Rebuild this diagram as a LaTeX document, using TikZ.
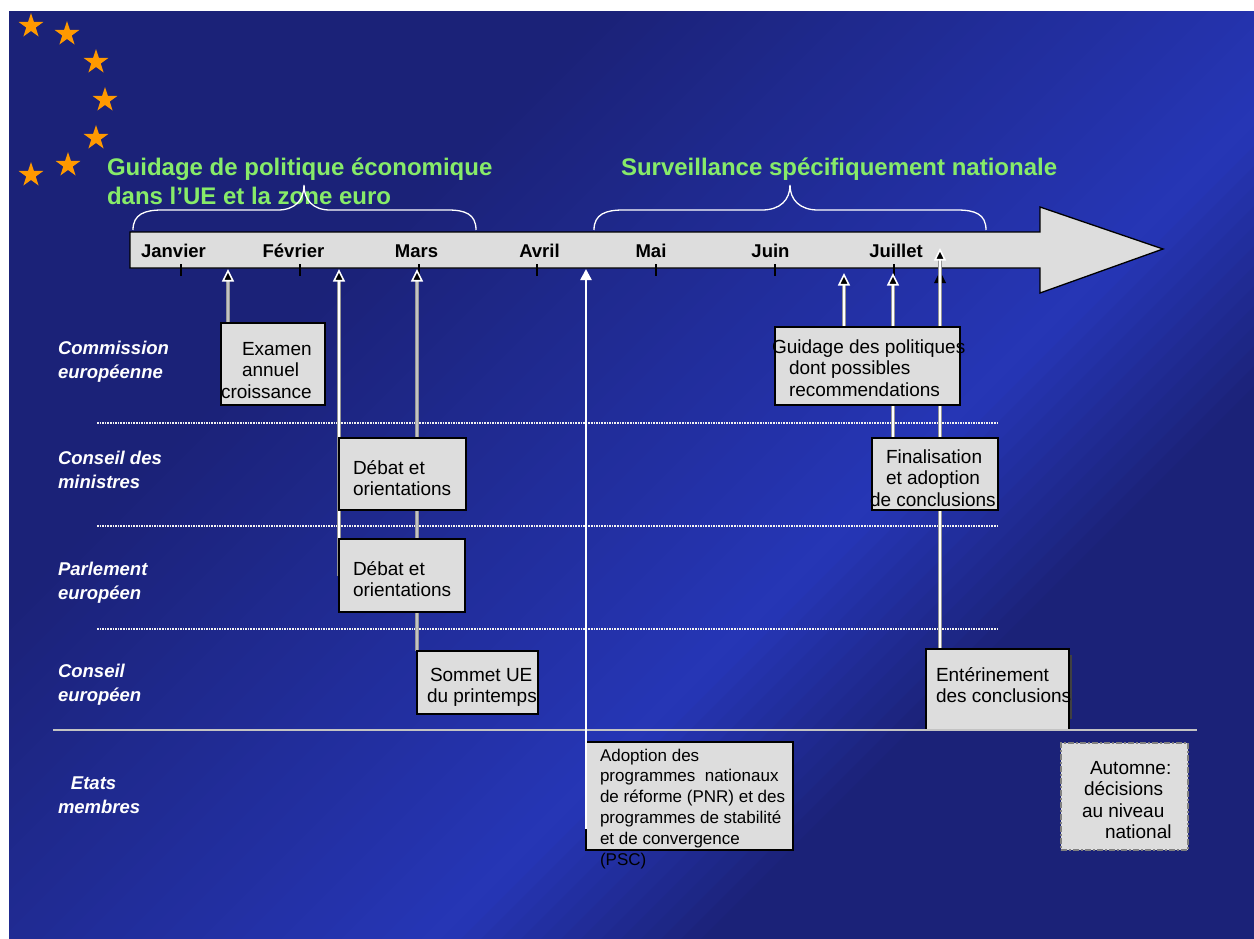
\documentclass[tikz,border=0pt]{standalone}
\usepackage{fontspec}
\setmainfont{Liberation Sans}
\usetikzlibrary{shapes.geometric, arrows.meta}
\definecolor{bgdark}{RGB}{27,34,120}
\definecolor{bgbright}{RGB}{38,54,182}
\definecolor{boxfill}{RGB}{221,221,221}
\definecolor{titlegreen}{RGB}{135,235,105}
\definecolor{starorange}{RGB}{255,153,0}
\definecolor{linegray}{RGB}{150,150,150}
\definecolor{linelight}{RGB}{195,195,195}
\definecolor{sepgray}{RGB}{195,195,195}
\pgfdeclarelayer{bglayer}
\pgfdeclarelayer{lineslayer}
\pgfdeclarelayer{frontlayer}
\pgfsetlayers{bglayer,lineslayer,main,frontlayer}
\newcommand\mylines[1]{\begin{tabular}[t]{@{}l@{}}#1\end{tabular}}
\begin{document}
\begin{tikzpicture}[x=1pt,y=-1pt,
  every node/.style={inner sep=0pt, outer sep=0pt},
  starnode/.style={star, star points=5, star point ratio=2.618, fill=starorange, minimum size=26pt},
  boxnode/.style={draw=black, line width=1.3pt, fill=boxfill, anchor=north west},
  boxtext/.style={anchor=base west, text=black, font=\fontsize{19}{21.5}\selectfont},
  sidelabel/.style={anchor=base west, text=white, font=\bfseries\itshape\fontsize{18.5}{24}\selectfont},
  month/.style={anchor=base, text=black, font=\bfseries\fontsize{18.5}{22}\selectfont},
  titletext/.style={anchor=base west, text=titlegreen, font=\bfseries\fontsize{24}{28.5}\selectfont},
  brace/.style={white, line width=1.3pt},
  dotsep/.style={white!90!gray, line width=1.6pt, dash pattern=on 1.6pt off 1pt},
  opentip/.tip={Triangle[length=12.5pt,width=12pt,color=white,fill=black,line width=1.6pt]},
  grayback/.style={linegray, line width=3.6pt, shorten >=9pt},
  grayfront/.style={linelight, line width=1.2pt, -opentip},
  dblback/.style={linegray, line width=3.6pt, shorten >=9pt},
  dblfront/.style={white, line width=1.4pt, -opentip},
  tick/.style={black, line width=1.2pt}
]
\useasboundingbox (0,0) rectangle (1254,939);
\begin{pgfonlayer}{bglayer}
\fill[white] (0,0) rectangle (1254,939);
\begin{scope}
\clip (9,12) rectangle (1254,939);
\foreach \s in {0,20,...,2200}{
  \pgfmathtruncatemacro{\t}{\s<600 ? 0 : (\s<1370 ? (\s-600)/7.7 : (\s<1640 ? 100-(\s-1370)/2.7 : 0))}
  \fill[bgbright!\t!bgdark] (\s,0) -- (\s+21,0) -- (\s-919,940) -- (\s-940,940) -- cycle;
}
\end{scope}
% stars
\node[starnode] (st1) at (31,26) {};
\node[starnode] (st2) at (67,34) {};
\node[starnode] (st3) at (96,62) {};
\node[starnode] (st4) at (105,100) {};
\node[starnode] (st5) at (96,138) {};
\node[starnode] (st6) at (68,165) {};
\node[starnode] (st7) at (31,175) {};
% titles
\node[titletext] (title1) at (107,176) {\mylines{Guidage de politique économique\\dans l’UE et la zone euro}};
\node[titletext] (title2) at (621,176) {Surveillance spécifiquement nationale};
% braces
\draw[brace] (133,230) .. controls (133,214) and (145,210) .. (162,210) -- (278,210) .. controls (295,210) and (304,200) .. (304,185) .. controls (304,200) and (313,210) .. (330,210) -- (448,210) .. controls (465,210) and (476,214) .. (476,230);
\draw[brace] (594,230) .. controls (594,214) and (606,210) .. (623,210) -- (762,210) .. controls (780,210) and (790,200) .. (790,185) .. controls (790,200) and (800,210) .. (818,210) -- (957,210) .. controls (975,210) and (986,214) .. (986,230);
% timeline
\draw[line width=1.3pt, fill=boxfill, line join=miter] (130,232) -- (1040,232) -- (1040,207) -- (1163,249) -- (1040,293) -- (1040,268) -- (130,268) -- cycle;
\foreach \x in {181,300,419,537,656,775,894}{\draw[tick] (\x,264) -- (\x,276);}
\node[month] (m1) at (173.5,257) {Janvier};
\node[month] (m2) at (293.5,257) {Février};
\node[month] (m3) at (416.5,257) {Mars};
\node[month] (m4) at (539.5,257) {Avril};
\node[month] (m5) at (651,257) {Mai};
\node[month] (m6) at (770.5,257) {Juin};
\node[month] (m7) at (896,257) {Juillet};
% dotted separators
\draw[dotsep] (97,423) -- (997,423);
\draw[dotsep] (97,526) -- (997,526);
\draw[dotsep] (97,629) -- (997,629);
\end{pgfonlayer}

% boxes
\node[boxnode, minimum width=104pt, minimum height=82pt] (examen) at (221,323) {};
\node[boxnode, minimum width=127pt, minimum height=72pt] (cons) at (339,438) {};
\node[boxnode, minimum width=126pt, minimum height=73pt] (parl) at (339,539) {};
\node[boxnode, minimum width=121pt, minimum height=63pt] (somm) at (417,651) {};
\node[boxnode, minimum width=185pt, minimum height=78pt] (guid) at (775,327) {};
\node[boxnode, minimum width=126pt, minimum height=72pt] (fin) at (872,438) {};
\fill[black!75] (1068,655) rectangle (1072,719);
\node[boxnode, minimum width=143pt, minimum height=81pt] (ent) at (926,649) {};
\node[boxnode, minimum width=207pt, minimum height=108pt] (psc) at (586,742) {};
\node[boxnode, draw=gray, line width=1.5pt, dash pattern=on 6pt off 2pt on 2pt off 2pt, minimum width=127pt, minimum height=107pt] (aut) at (1061,743) {};

% box texts
\node[boxtext] (examen-t) at (221,355) {\mylines{\hspace*{21pt}Examen\\\hspace*{21pt}annuel\\croissance}};
\node[boxtext] (cons-t) at (353,474) {\mylines{Débat et\\orientations}};
\node[boxtext] (parl-t) at (353,575) {\mylines{Débat et\\orientations}};
\node[boxtext] (somm-t) at (427,681) {\mylines{\hspace*{3pt}Sommet UE\\du printemps}};
\node[boxtext] (guid-t) at (772,353) {\mylines{Guidage des politiques\\\hspace*{17pt}dont possibles\\\hspace*{17pt}recommendations}};
\node[boxtext] (fin-t) at (870,463) {\mylines{\hspace*{16pt}Finalisation\\\hspace*{16pt}et adoption\\de conclusions}};
\node[boxtext] (ent-t) at (936,681) {\mylines{Entérinement\\des conclusions}};
\node[boxtext, font=\fontsize{17}{20.8}\selectfont] (psc-t) at (600,761) {\mylines{Adoption des\\programmes\ \ nationaux\\de réforme (PNR) et des\\programmes de stabilité\\et de convergence\\(PSC)}};
\node[boxtext] (aut-t) at (1082,774) {\mylines{\hspace*{8pt}Automne:\\\hspace*{2pt}décisions\\au niveau\\\hspace*{23pt}national}};

% solid separator
\draw[sepgray, line width=2pt] (53,730) -- (1197,730);

% side labels
\node[sidelabel] (l1) at (58,354) {\mylines{Commission\\européenne}};
\node[sidelabel] (l2) at (58,464) {\mylines{Conseil des\\ministres}};
\node[sidelabel] (l3) at (58,575) {\mylines{Parlement\\européen}};
\node[sidelabel] (l4) at (58,677) {\mylines{Conseil\\européen}};
\node[sidelabel] (l5) at (58,789) {\mylines{\hspace*{13pt}Etats\\membres}};

% connectors
\begin{pgfonlayer}{lineslayer}
\coordinate (a1) at (228,269);
\coordinate (a2) at (339,269);
\coordinate (a3) at (417,269);
\coordinate (a5) at (844,273);
\coordinate (a6) at (893,273);
\coordinate (a7) at (940,248);
\draw[grayback] (examen.north -| a1) -- (a1);
\draw[grayfront] (examen.north -| a1) -- (a1);
\draw[dblback] (parl.west) -- (a2);
\draw[dblfront] (parl.west) -- (a2);
\draw[grayback] (somm.north -| a3) -- (a3);
\draw[grayfront] (somm.north -| a3) -- (a3);
\draw[dblback] (guid.north -| a5) -- (a5);
\draw[dblfront] (guid.north -| a5) -- (a5);
\draw[dblback] (fin.north -| a6) -- (a6);
\draw[dblfront] (fin.north -| a6) -- (a6);
\fill[black] (934,283) -- (946,283) -- (940,271) -- cycle;
\draw[dblback] (ent.north -| a7) -- (a7);
\draw[dblfront] (ent.north -| a7) -- (a7);
\end{pgfonlayer}
\begin{pgfonlayer}{frontlayer}
\coordinate (psc-in) at (586,829);
\coordinate (a4) at (586,269);
\draw[white, line width=2.4pt, -{Triangle[length=11pt,width=11pt]}] (psc-in) -- (a4);
\end{pgfonlayer}
\end{tikzpicture}
\end{document}
